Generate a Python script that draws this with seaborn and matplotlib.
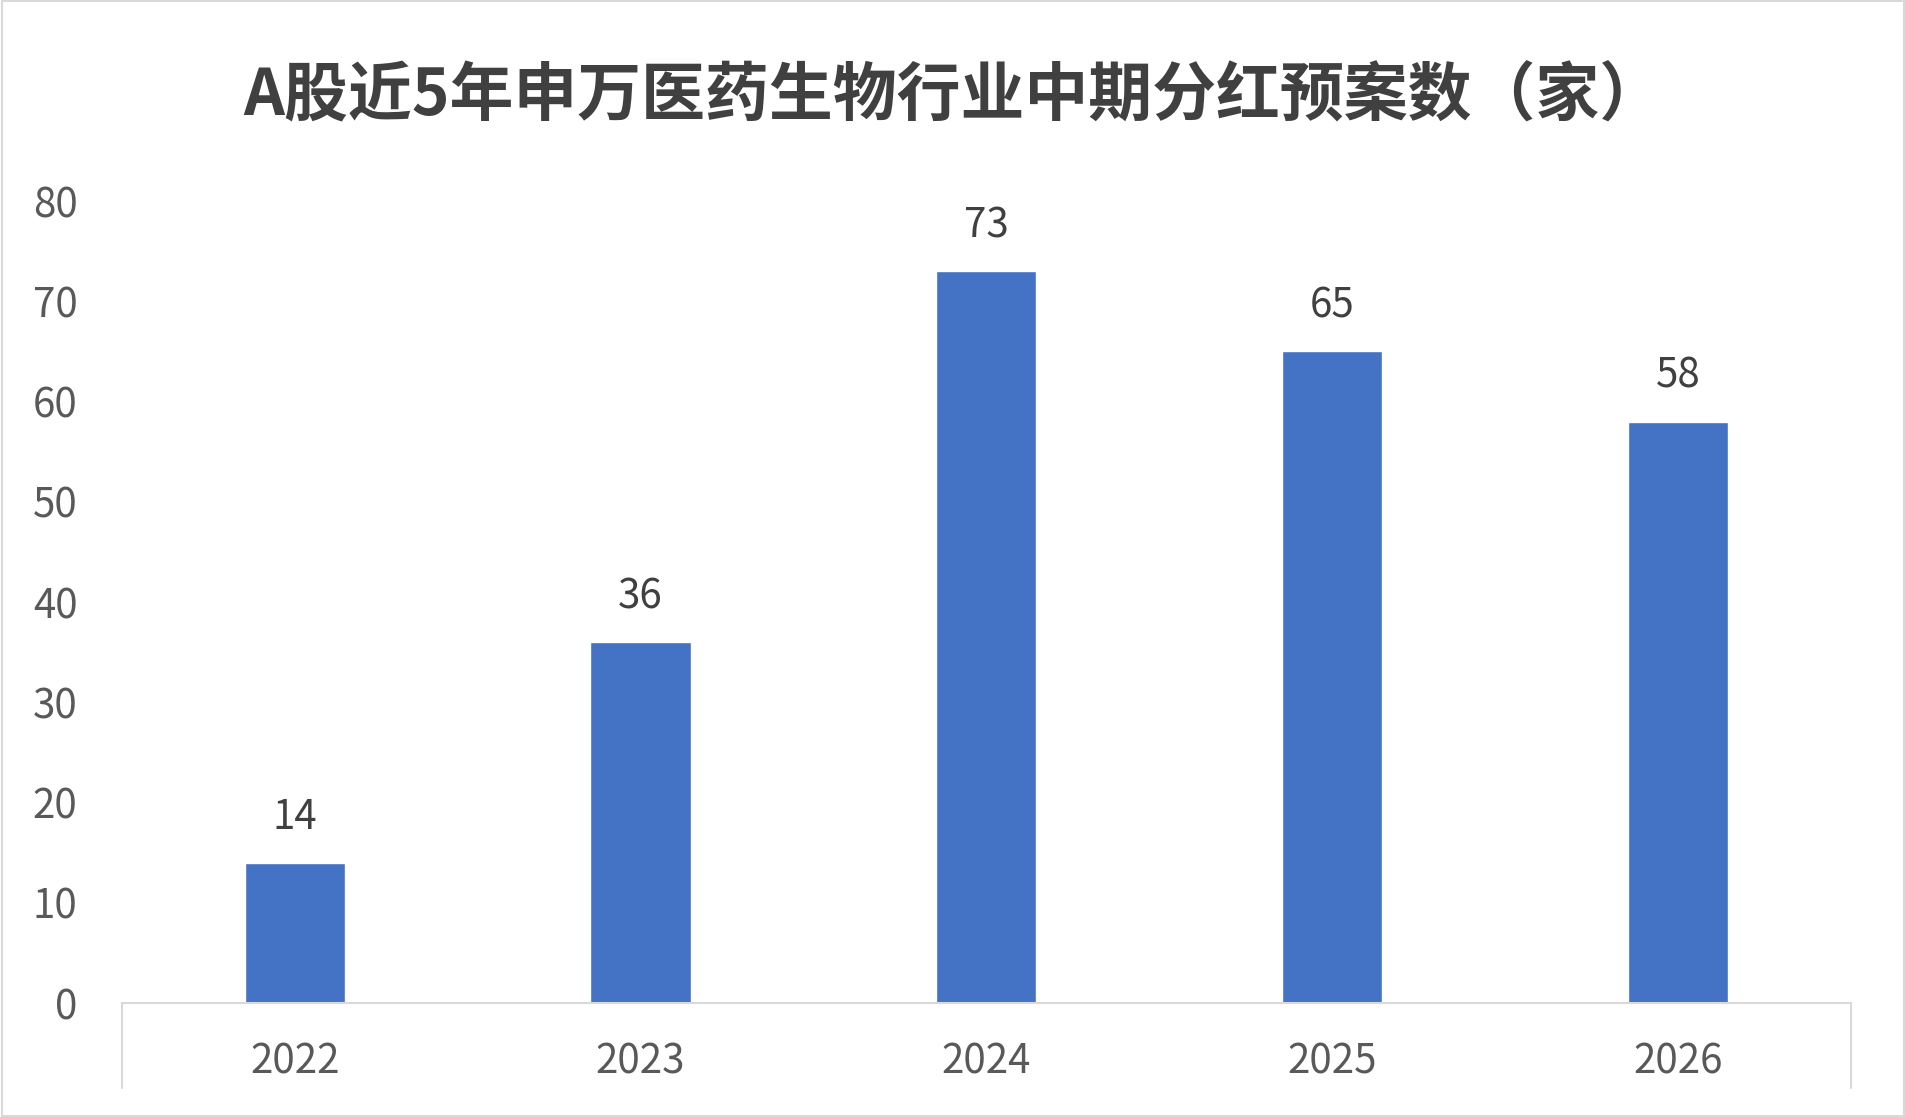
import matplotlib
matplotlib.use("Agg")
import matplotlib.pyplot as plt
import pandas as pd
import seaborn as sns
from matplotlib.lines import Line2D
from matplotlib.patches import Rectangle

years = ["2022", "2023", "2024", "2025", "2026"]
counts = [14, 36, 73, 65, 58]
title = "A股近5年申万医药生物行业中期分红预案数（家）"

sns.set_theme(style="white")
plt.rcParams["font.family"] = ["Noto Sans CJK SC", "DejaVu Sans"]

df = pd.DataFrame({"year": years, "count": counts})

fig = plt.figure(figsize=(19.06, 11.17), dpi=100)
ax = fig.add_axes([0.064, 0.102, 0.907, 0.718])
sns.barplot(data=df, x="year", y="count", color="#4472C4", saturation=1,
            width=0.29, ax=ax)

ax.set_ylim(0, 80)
ax.set_yticks(range(0, 81, 10))
ax.set_xlim(-0.5, 4.5)
ax.set_xlabel(""); ax.set_ylabel("")
for s in ["top", "right", "left"]:
    ax.spines[s].set_visible(False)
ax.spines["bottom"].set_color("#D9D9D9")
ax.spines["bottom"].set_linewidth(1.5)
ax.tick_params(axis="both", colors="#595959", labelsize=29, length=0)
ax.tick_params(axis="y", pad=32)
ax.tick_params(axis="x", pad=28)

for i, v in enumerate(counts):
    ax.text(i, v + 2.5, str(v), ha="center", va="bottom", fontsize=29, color="#404040")

# category axis edge lines
for x in (0.064, 0.971):
    fig.add_artist(Line2D([x, x], [0.026, 0.102], color="#D9D9D9", lw=1.5))

fig.text(0.5, 0.913, title, ha="center", va="center", fontsize=46,
         fontweight="bold", color="#404040")
fig.add_artist(Rectangle((0.001, 0.001), 0.998, 0.998, fill=False,
                         edgecolor="#D9D9D9", lw=1.5, transform=fig.transFigure))

fig.savefig("out.png", dpi=100, facecolor="white")
